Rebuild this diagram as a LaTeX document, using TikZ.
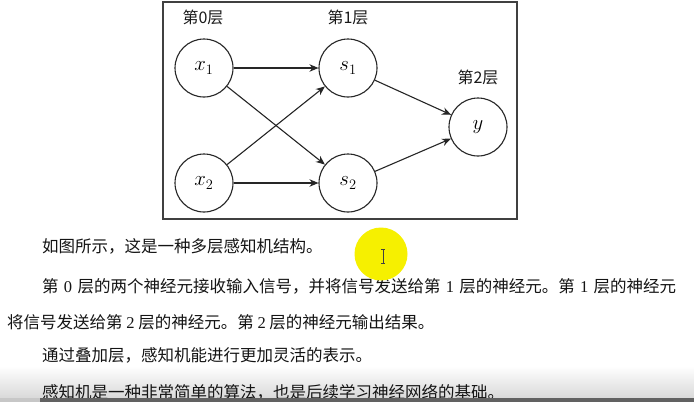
\documentclass[tikz,border=0pt]{standalone}
\usepackage{fontspec}
\setmainfont{Liberation Serif}
\newfontfamily\cjk{Noto Sans CJK SC}
\usetikzlibrary{arrows.meta}

\definecolor{marker}{RGB}{246,240,0}
\newcommand{\latinnum}[1]{{\rmfamily #1}}

\begin{document}
\begin{tikzpicture}[
  x=1pt, y=-1pt,
  >={Stealth[length=9pt,width=7.5pt]},
  frame/.style={draw=black!75, line width=1.1pt},
  neuron/.style={circle, draw=black!85, line width=1.1pt, minimum size=58pt,
    inner sep=0pt, font=\fontsize{20.74}{25}\selectfont},
  layer/.style={font=\cjk\fontsize{16}{19}\selectfont, text=black!90},
  link/.style={->, black!85, line width=1.1pt},
  body/.style={anchor=west, inner sep=0pt, text=black!92,
    font=\cjk\fontsize{16.5}{20}\selectfont}
]
\useasboundingbox (0,0) rectangle (694,402);
\fill[white] (0,0) rectangle (694,402);

% --------------------------------------------------------------------------
% Network figure: layers 0, 1, 2 inside a frame.
% --------------------------------------------------------------------------
\draw[frame] (163,2) rectangle (517,219);

\node[neuron] (x1) at (204,68)  {$x_1$};
\node[neuron] (x2) at (204,183) {$x_2$};
\node[neuron] (s1) at (348,68)  {$s_1$};
\node[neuron] (s2) at (348,183) {$s_2$};
\node[neuron] (y)  at (478,127) {$y$};

\node[layer] (l0) at (203,17) {第0层};
\node[layer] (l1) at (348,17) {第1层};
\node[layer] (l2) at (478,77) {第2层};

\foreach \a/\b in {x1/s1, x1/s2, x2/s1, x2/s2, s1/y, s2/y}
  \draw[link] (\a) -- (\b);

% --------------------------------------------------------------------------
% Page text below the figure.
% --------------------------------------------------------------------------
\shade[top color=white, bottom color=black!15] (0,366) rectangle (694,398);

\node[body] (p1) at (42,246) {如图所示，这是一种多层感知机结构。};
\node[body] (p2) at (42,286) {\makebox[634pt][s]{第 \latinnum{0} 层的两个神经元接收输入信号，并将信号发送给第 \latinnum{1} 层的神经元。第 \latinnum{1} 层的神经元}};
\node[body] (p3) at (7,322)
  {将信号发送给第 \latinnum{2} 层的神经元。第 \latinnum{2} 层的神经元输出结果。};
\node[body] (p4) at (42,355) {通过叠加层，感知机能进行更加灵活的表示。};
\node[body] (p5) at (42,392) {感知机是一种非常简单的算法，也是后续学习神经网络的基础。};

% Window edge covering the last line.
\fill[black!22] (0,398) rectangle (40,402);
\fill[black!62] (40,398) rectangle (694,402);

% Cursor highlight.
\fill[marker] (381,254) circle (26.5);
\draw[black!75, line width=0.8pt] (383,249) -- (383,263);
\draw[black!75, line width=0.7pt] (380.8,249) -- (385.2,249);
\draw[black!75, line width=0.7pt] (380.8,263) -- (385.2,263);

\end{tikzpicture}
\end{document}
